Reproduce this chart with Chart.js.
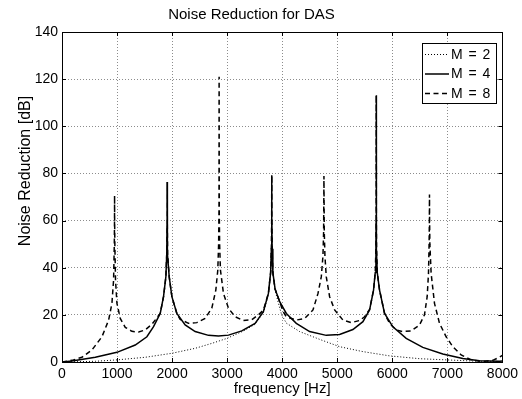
<!DOCTYPE html>
<html>
<head>
<meta charset="utf-8">
<script src="https://cdn.jsdelivr.net/npm/chart.js@4/dist/chart.umd.min.js"></script>
<style>
  html, body { margin: 0; padding: 0; background: #fff; }
  #wrap { width: 522px; height: 399px; }
</style>
</head>
<body>
<div id="wrap"><canvas id="c" width="522" height="399"></canvas></div>
<script>
// ---- data ----
const chartTitle = "Noise Reduction for DAS";
const xTitle = "frequency [Hz]";
const yTitle = "Noise Reduction [dB]";
const seriesLabels = ["M = 2", "M = 4", "M = 8"];
const xTicks = [0, 1000, 2000, 3000, 4000, 5000, 6000, 7000, 8000];
const yTicks = [0, 20, 40, 60, 80, 100, 120, 140];

const m2Freq = [0, 605, 998, 1512, 1996, 2419, 2721, 2993, 3205, 3300, 3507, 3658, 3749, 3790, 3803, 3810, 3817, 3830, 3870, 3930, 3990, 4075, 4317, 4680, 5042, 5466, 5950, 6494, 6978, 7582, 8000];
const m2Val  = [0, 0.3, 0.9, 2.0, 3.7, 5.8, 7.9, 10.0, 12.2, 13.2, 16.0, 21.0, 28.5, 38, 48, 60, 48, 38, 30.5, 25, 20, 16.5, 12.9, 9.6, 6.5, 4.4, 2.6, 1.4, 0.9, 0.3, 0.2];

const m4Freq = [0, 181, 605, 998, 1330, 1542, 1663, 1784, 1844, 1887, 1903, 1909, 1911, 1913, 1919, 1947, 1996, 2086, 2237, 2419, 2661, 2842, 3024, 3265, 3507, 3658, 3749, 3790, 3803, 3808, 3810, 3812, 3817, 3830, 3870, 3954, 4075, 4256, 4498, 4800, 5042, 5284, 5466, 5587, 5659, 5690, 5702, 5706, 5708, 5710, 5714, 5726, 5768, 5859, 6010, 6252, 6554, 6917, 7280, 7582, 7945, 8000];
const m4Val  = [0, 0.4, 2.0, 4.1, 7.2, 10.7, 15.0, 20.6, 27.7, 36.2, 46, 58, 76.4, 58, 46, 36.2, 27.7, 20.6, 15.7, 12.9, 11.3, 11.0, 11.4, 13.2, 16.4, 21.3, 29.1, 38, 48, 60, 79.2, 60, 48, 38, 31, 25.6, 20.6, 16.4, 12.9, 11.3, 11.7, 13.8, 17.1, 22.1, 30.5, 38, 48, 60, 113.2, 60, 48, 38, 30.5, 20.6, 14.9, 10.0, 6.2, 3.4, 1.5, 0.5, 0.3, 0.4];

const m8Freq = [0, 181, 363, 544, 726, 847, 907, 937, 950, 954, 955, 956, 960, 972, 998, 1058, 1149, 1270, 1391, 1512, 1633, 1700, 1784, 1844, 1887, 1903, 1909, 1911, 1913, 1919, 1947, 1996, 2086, 2147, 2298, 2449, 2600, 2721, 2794, 2830, 2845, 2852, 2854, 2856, 2863, 2878, 2933, 3024, 3144, 3296, 3447, 3568, 3658, 3749, 3790, 3803, 3808, 3810, 3812, 3817, 3830, 3870, 3954, 4014, 4075, 4256, 4408, 4559, 4650, 4710, 4740, 4752, 4758, 4764, 4776, 4800, 4861, 4952, 5103, 5254, 5405, 5496, 5587, 5659, 5690, 5702, 5706, 5708, 5710, 5714, 5726, 5768, 5859, 5950, 6070, 6191, 6343, 6494, 6584, 6633, 6657, 6668, 6673, 6675, 6677, 6682, 6705, 6766, 6857, 6978, 7099, 7250, 7431, 7643, 7824, 7945, 8000];
const m8Val  = [0, 0.7, 2.0, 5.1, 10.7, 17.8, 24.9, 34.8, 50, 60, 70.6, 60, 50, 34.8, 24.9, 18.5, 14.7, 13.0, 12.7, 13.6, 16.0, 18.0, 20.6, 27.7, 36.2, 46, 58, 76.4, 58, 46, 36.2, 27.7, 20.6, 18.1, 16.4, 16.7, 18.5, 22.8, 30.5, 39, 50, 65, 121, 65, 50, 39, 29.1, 22.8, 19.2, 17.6, 17.9, 20.0, 22.0, 29.1, 38, 48, 60, 79.2, 60, 48, 38, 31, 25.6, 21.5, 19.2, 17.8, 18.5, 22.1, 29.1, 36.2, 45, 55, 78.9, 55, 45, 36.2, 27.7, 22.1, 17.8, 16.7, 17.6, 19.2, 22.3, 30.5, 38, 48, 60, 113.2, 60, 48, 38, 30.5, 20.6, 16.4, 13.6, 12.9, 13.2, 15.7, 20.0, 27.7, 37.6, 50, 60, 71.1, 60, 50, 37.6, 24.9, 16.4, 10.7, 6.5, 3.0, 0.9, 0.2, 0.7, 2.0, 2.8];

// ---- build ----
const FONT = '"Liberation Sans", Arial, Helvetica, sans-serif';
function pts(fs, vs) { return fs.map((f, i) => ({ x: f, y: vs[i] })); }

const lineStyles = [
  { width: 1, dash: [1, 2] },
  { width: 1.5, dash: [] },
  { width: 1.5, dash: [5, 3.5] }
];

const frame = {
  id: 'frame',
  afterDatasetsDraw(chart) {
    const { ctx, chartArea: a, scales } = chart;
    ctx.save();
    ctx.strokeStyle = '#000';
    ctx.lineWidth = 1;
    ctx.setLineDash([]);
    ctx.strokeRect(Math.round(a.left) + 0.5, Math.round(a.top) + 0.5, Math.round(a.right - a.left), Math.round(a.bottom - a.top));
    const L = 4;
    ctx.beginPath();
    xTicks.forEach(v => {
      const x = Math.round(scales.x.getPixelForValue(v)) + 0.5;
      ctx.moveTo(x, a.bottom); ctx.lineTo(x, a.bottom - L);
      ctx.moveTo(x, a.top); ctx.lineTo(x, a.top + L);
    });
    yTicks.forEach(v => {
      const y = Math.round(scales.y.getPixelForValue(v)) + 0.5;
      ctx.moveTo(a.left, y); ctx.lineTo(a.left + L, y);
      ctx.moveTo(a.right, y); ctx.lineTo(a.right - L, y);
    });
    ctx.stroke();

    // y axis title
    ctx.fillStyle = '#000';
    ctx.font = '16px ' + FONT;
    ctx.textAlign = 'center';
    ctx.textBaseline = 'middle';
    ctx.translate(26, 171);
    ctx.rotate(-Math.PI / 2);
    ctx.fillText(yTitle, 0, 0);
    ctx.restore();

    // legend
    ctx.save();
    const bx = 422, by = 43, bw = 74, bh = 60;
    ctx.fillStyle = '#fff';
    ctx.fillRect(bx, by, bw, bh);
    ctx.strokeStyle = '#000';
    ctx.lineWidth = 1;
    ctx.strokeRect(bx + 0.5, by + 0.5, bw, bh);
    const rows = [54, 73.5, 93];
    seriesLabels.forEach((lab, i) => {
      const ds = chart.data.datasets[i];
      ctx.strokeStyle = '#000';
      ctx.lineWidth = ds.borderWidth;
      ctx.setLineDash(ds.borderDash || []);
      ctx.beginPath();
      ctx.moveTo(425, rows[i] + 0.5);
      ctx.lineTo(449, rows[i] + 0.5);
      ctx.stroke();
      ctx.setLineDash([]);
      ctx.fillStyle = '#000';
      ctx.font = '14px ' + FONT;
      if ('letterSpacing' in ctx) ctx.letterSpacing = '1px';
      ctx.textAlign = 'left';
      ctx.textBaseline = 'middle';
      ctx.fillText(lab, 451, rows[i] + 1);
      if ('letterSpacing' in ctx) ctx.letterSpacing = '0px';
    });
    ctx.restore();
  }
};

new Chart(document.getElementById('c'), {
  type: 'line',
  data: {
    datasets: [
      { label: seriesLabels[0], data: pts(m2Freq, m2Val) },
      { label: seriesLabels[1], data: pts(m4Freq, m4Val) },
      { label: seriesLabels[2], data: pts(m8Freq, m8Val) }
    ].map((d, i) => Object.assign(d, {
      borderColor: '#000',
      backgroundColor: '#000',
      borderWidth: lineStyles[i].width,
      borderDash: lineStyles[i].dash,
      pointRadius: 0,
      tension: 0,
      fill: false
    }))
  },
  options: {
    responsive: false,
    animation: false,
    events: [],
    layout: { padding: { left: 0, right: 19, top: 0, bottom: 0 } },
    plugins: {
      legend: { display: false },
      tooltip: { enabled: false },
      title: {
        display: true,
        text: chartTitle,
        color: '#000',
        font: { family: FONT, size: 15, weight: 'normal' },
        padding: { top: 6, bottom: 8 }
      }
    },
    scales: {
      x: {
        type: 'linear',
        min: 0, max: 8000,
        afterBuildTicks(s) { s.ticks = xTicks.map(v => ({ value: v })); },
        afterFit(s) { s.height = 37; },
        ticks: { color: '#000', font: { family: FONT, size: 14 }, padding: 4, maxRotation: 0, autoSkip: false, callback: v => String(v) },
        grid: { color: 'rgba(0,0,0,0.45)', lineWidth: 1, drawTicks: false },
        border: { display: false, dash: [1, 2] },
        title: { display: true, text: xTitle, color: '#000', font: { family: FONT, size: 15 }, padding: { top: 0, bottom: 1 } }
      },
      y: {
        min: 0, max: 140,
        afterBuildTicks(s) { s.ticks = yTicks.map(v => ({ value: v })); },
        afterFit(s) { s.width = 62; },
        ticks: { color: '#000', font: { family: FONT, size: 14 }, padding: 4, autoSkip: false, callback: v => String(v) },
        grid: { color: 'rgba(0,0,0,0.45)', lineWidth: 1, drawTicks: false },
        border: { display: false, dash: [1, 2] }
      }
    }
  },
  plugins: [frame]
});
</script>
</body>
</html>
